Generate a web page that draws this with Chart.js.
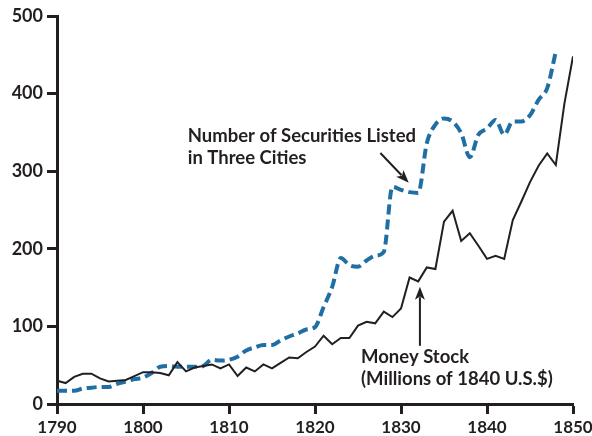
<!DOCTYPE html>
<html>
<head>
<meta charset="utf-8">
<script src="https://cdn.jsdelivr.net/npm/chart.js@4/dist/chart.umd.min.js"></script>
<style>
  html, body { margin: 0; padding: 0; background: #fff; }
  #wrap { width: 592px; height: 436px; }
</style>
</head>
<body>
<div id="wrap"><canvas id="myChart" width="592" height="436"></canvas></div>
<script>
const years = [1790, 1791, 1792, 1793, 1794, 1795, 1796, 1797, 1798, 1799,
               1800, 1801, 1802, 1803, 1804, 1805, 1806, 1807, 1808, 1809,
               1810, 1811, 1812, 1813, 1814, 1815, 1816, 1817, 1818, 1819,
               1820, 1821, 1822, 1823, 1824, 1825, 1826, 1827, 1828, 1829,
               1830, 1831, 1832, 1833, 1834, 1835, 1836, 1837, 1838, 1839,
               1840, 1841, 1842, 1843, 1844, 1845, 1846, 1847, 1848, 1849,
               1850];

// money stock, millions of 1840 US$
const moneyStock = [30, 27, 35, 39, 39, 33, 29, 30, 31, 36,
                    41, 41, 40, 37, 54, 42, 47, 49, 51, 46,
                    51, 36, 47, 42, 51, 46, 53, 60, 59, 67,
                    74, 88, 77, 85, 85, 101, 106, 104, 119, 112,
                    123, 163, 158, 176, 174, 235, 249, 210, 220, 204,
                    187, 191, 187, 237, 261, 286, 307, 323, 308, 387,
                    448];

// number of securities listed (1790-1848)
const securities = [17, 17, 17, 20, 21, 22, 22, 26, 29, 32,
                    34, 40, 48, 49, 48, 48, 48, 49, 57, 56,
                    57, 61, 69, 73, 76, 76, 82, 87, 91, 96,
                    99, 125, 151, 188, 179, 177, 185, 191, 196, 280,
                    276, 273, 272, 336, 360, 368, 364, 349, 318, 347,
                    355, 366, 347, 364, 364, 372, 392, 407, 454];

const ink = '#231f20';
const blue = '#1f6fa5';

const toPoints = (vals) => vals.map((v, i) => ({ x: years[i], y: v }));

// text + arrows drawn in data coordinates
const notes = {
    id: 'notes',
    afterDatasetsDraw(chart) {
        const { ctx, scales: { x, y } } = chart;
        ctx.save();
        ctx.fillStyle = ink;
        ctx.font = 'bold 18.5px Lato';
        ctx.textBaseline = 'alphabetic';
        let px = x.getPixelForValue(1805.2), py = y.getPixelForValue(338);
        ctx.fillText('Number of Securities Listed', px, py);
        ctx.fillText('in Three Cities', px, py + 22);
        px = x.getPixelForValue(1825.35); py = y.getPixelForValue(52.4);
        ctx.fillText('Money Stock', px, py);
        ctx.fillText('(Millions of 1840 U.S.$)', px, py + 22);

        const arrow = (x0, y0, x1, y1) => {
            const ax = x.getPixelForValue(x0), ay = y.getPixelForValue(y0);
            const bx = x.getPixelForValue(x1), by = y.getPixelForValue(y1);
            const ang = Math.atan2(by - ay, bx - ax);
            const len = 13, half = 5;
            ctx.strokeStyle = ink;
            ctx.lineWidth = 2;
            ctx.beginPath();
            ctx.moveTo(ax, ay);
            ctx.lineTo(bx - Math.cos(ang) * len * 0.8, by - Math.sin(ang) * len * 0.8);
            ctx.stroke();
            ctx.beginPath();
            ctx.moveTo(bx, by);
            ctx.lineTo(bx - Math.cos(ang) * len - Math.sin(ang) * half,
                       by - Math.sin(ang) * len + Math.cos(ang) * half);
            ctx.lineTo(bx - Math.cos(ang) * len * 0.75, by - Math.sin(ang) * len * 0.75);
            ctx.lineTo(bx - Math.cos(ang) * len + Math.sin(ang) * half,
                       by - Math.sin(ang) * len - Math.cos(ang) * half);
            ctx.closePath();
            ctx.fill();
        };
        arrow(1827.6, 323.5, 1830.9, 285);
        arrow(1832.2, 75, 1832.2, 151);
        ctx.restore();
    }
};

const axisStyle = {
    border: { display: true, color: ink, width: 3 },
    grid: { drawOnChartArea: false, drawTicks: true, tickLength: 10,
            tickColor: ink, tickWidth: 3 },
    ticks: { color: ink, font: { family: 'Lato', size: 18, weight: 'bold' } }
};

const config = {
    type: 'line',
    data: {
        datasets: [
            {
                label: 'Money Stock',
                data: toPoints(moneyStock),
                borderColor: ink,
                borderWidth: 2,
                pointRadius: 0,
                tension: 0,
                order: 1
            },
            {
                label: 'Number of Securities Listed',
                data: toPoints(securities),
                borderColor: blue,
                borderWidth: 4,
                borderDash: [10, 5],
                pointRadius: 0,
                cubicInterpolationMode: 'monotone',
                order: 2
            }
        ]
    },
    plugins: [notes],
    options: {
        responsive: false,
        animation: false,
        layout: { padding: { left: 0, right: 19, top: 16, bottom: 0 } },
        plugins: {
            legend: { display: false },
            tooltip: { enabled: false }
        },
        scales: {
            x: {
                type: 'linear',
                min: 1790,
                max: 1850,
                ...axisStyle,
                ticks: { color: ink, font: { family: 'Lato', size: 17, weight: 'bold' },
                         stepSize: 10, padding: 3, callback: (v) => String(v) },
                afterFit: (s) => {
                    s.height = 32;
                    s.paddingLeft = 0;
                    s.paddingRight = 0;
                }
            },
            y: {
                min: 0,
                max: 500,
                ...axisStyle,
                ticks: { ...axisStyle.ticks, stepSize: 100, padding: 4 },
                afterFit: (s) => {
                    s.width = 57;
                    s.paddingTop = 0;
                    s.paddingBottom = 0;
                }
            }
        }
    }
};

const myChart = new Chart(document.getElementById('myChart'), config);
</script>
</body>
</html>
